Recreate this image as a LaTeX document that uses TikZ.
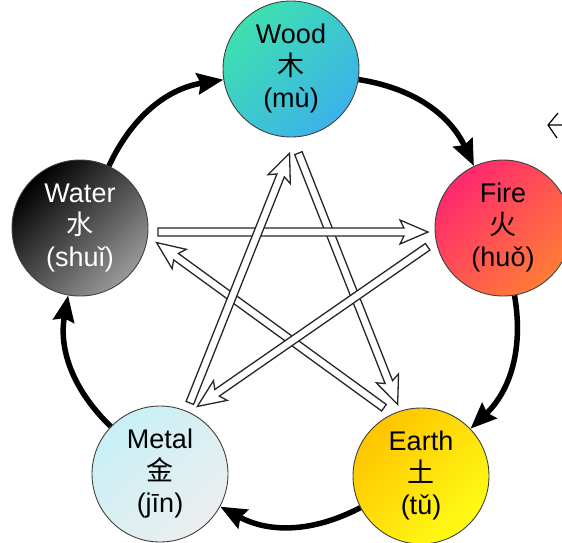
\documentclass[tikz,border=0pt]{standalone}
\usepackage{fontspec}
\setmainfont{Liberation Sans}
\newfontfamily\cjk{Noto Sans CJK SC}
\usetikzlibrary{arrows.meta,calc}
\definecolor{woodA}{RGB}{62,224,176}\definecolor{woodB}{RGB}{170,244,240}\definecolor{woodC}{RGB}{60,178,234}
\definecolor{fireA}{RGB}{255,40,110}\definecolor{fireB}{RGB}{255,80,90}\definecolor{fireC}{RGB}{255,125,55}
\definecolor{earthA}{RGB}{255,196,0}\definecolor{earthB}{RGB}{255,218,0}\definecolor{earthC}{RGB}{255,252,20}
\definecolor{metalA}{RGB}{200,240,246}\definecolor{metalB}{RGB}{246,252,252}\definecolor{metalC}{RGB}{236,238,238}
\tikzset{
  >={Stealth[length=26pt,width=21pt,inset=3pt]},
  el/.style={circle,draw=black!75,line width=0.9pt,minimum size=136pt,inner sep=0pt,align=center,font=\fontsize{27}{32}\selectfont},
  gen/.style={->,line width=5.5pt},
  ctl/.style={draw=black!85,fill=white,line width=1.3pt,line join=miter},
}
% hollow arrow between two star points, #3/#4 = gaps at start/tip
\newcommand\ctlarrow[4]{%
  \path ($(#1s)!#3pt!(#2s)$) coordinate (ta) ($(#2s)!#4pt!(#1s)$) coordinate (tb);
  \path ($(tb)!28pt!(ta)$) coordinate (th) ($(tb)!24pt!(ta)$) coordinate (tj);
  \draw[ctl] ($(ta)!4pt!90:(tb)$) -- ($(tj)!4pt!90:(tb)$) -- ($(th)!12pt!90:(tb)$) -- (tb)
    -- ($(th)!12pt!-90:(tb)$) -- ($(tj)!4pt!-90:(tb)$) -- ($(ta)!4pt!-90:(tb)$) -- cycle;}

\begin{document}
\begin{tikzpicture}[x=1pt,y=-1pt]
\useasboundingbox (0,0) rectangle (562,542);
\node[el,top color=woodA,middle color=woodB,bottom color=woodC,shading angle=45] (wood) at (291,69) {Wood\\{\cjk 木}\\(mù)};
\node[el,top color=fireA,middle color=fireB,bottom color=fireC,shading angle=45] (fire) at (503,228) {Fire\\{\cjk 火}\\(huǒ)};
\node[el,top color=earthA,middle color=earthB,bottom color=earthC,shading angle=45] (earth) at (421,476) {Earth\\{\cjk 土}\\(tǔ)};
\node[el,top color=metalA,middle color=metalB,bottom color=metalC,shading angle=45] (metal) at (160,474) {Metal\\{\cjk 金}\\(jīn)};
\node[el,top color=black,middle color=black!88,bottom color=black!40,shading angle=45,text=white] (water) at (80,228) {Water\\{\cjk 水}\\(shuǐ)};
% generating cycle
\draw[gen] (wood) to[bend left=28] (fire);
\draw[gen] (fire) to[bend left=28] (earth);
\draw[gen] (earth) to[bend left=28] (metal);
\draw[gen] (metal) to[bend left=28] (water);
\draw[gen] (water) to[bend left=28] (wood);
% controlling cycle
\foreach \n/\x/\y in {wood/294/142,fire/449/232,earth/405/423,metal/185/415,water/142/232}{\coordinate (\n s) at (\x,\y);}
\foreach \a/\b/\p/\q in {wood/earth/12/20,earth/water/26/18,water/fire/16/21,fire/metal/26/15,metal/wood/13/12}{\ctlarrow{\a}{\b}{\p}{\q}}
\draw[line width=1.2pt] (562,125) -- (548,125) (558,113) -- (548,125) -- (557,138);
\end{tikzpicture}
\end{document}
